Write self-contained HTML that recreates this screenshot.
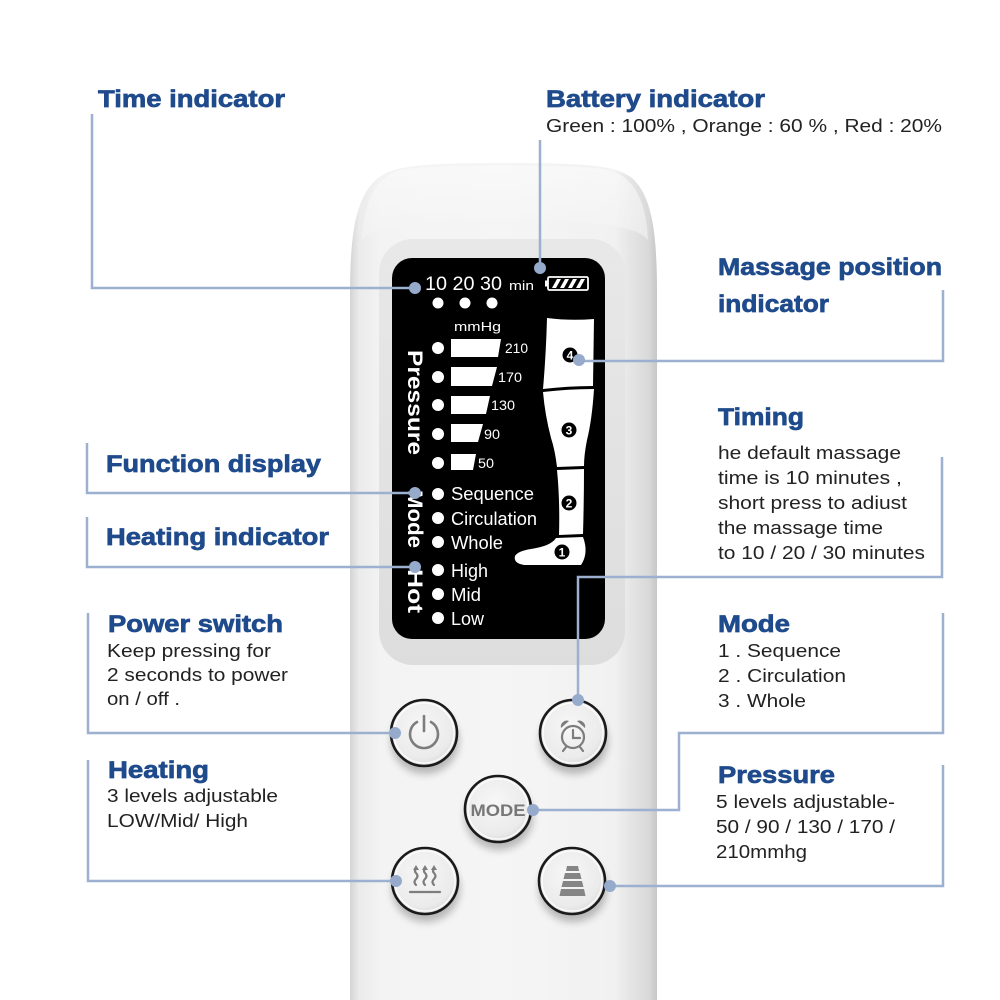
<!DOCTYPE html>
<html><head><meta charset="utf-8"><style>
html,body{margin:0;padding:0;background:#fff;}
svg{display:block;}
.t{font-family:"Liberation Sans",Arial,sans-serif;font-weight:bold;font-size:24px;fill:#1f4b8c;stroke:#1f4b8c;stroke-width:0.7;}
.b{font-family:"Liberation Sans",Arial,sans-serif;font-size:18px;fill:#222;}
.d{font-family:"Liberation Sans",Arial,sans-serif;fill:#fff;}
.ln{fill:none;stroke:#9cb0cf;stroke-width:2.5;}
.dot{fill:#96aacb;}
</style></head><body>
<svg width="1000" height="1000" viewBox="0 0 1000 1000" xmlns="http://www.w3.org/2000/svg">
<defs>
<linearGradient id="body" x1="350" y1="0" x2="658" y2="0" gradientUnits="userSpaceOnUse">
<stop offset="0" stop-color="#d4d4d4"/>
<stop offset="0.03" stop-color="#ebebeb"/>
<stop offset="0.1" stop-color="#f3f3f3"/>
<stop offset="0.5" stop-color="#f5f5f5"/>
<stop offset="0.86" stop-color="#f1f1f1"/>
<stop offset="0.92" stop-color="#e3e3e3"/>
<stop offset="0.97" stop-color="#d9d9d9"/>
<stop offset="1" stop-color="#c4c4c4"/>
</linearGradient>
<linearGradient id="cap" x1="0" y1="163" x2="0" y2="240" gradientUnits="userSpaceOnUse">
<stop offset="0" stop-color="#fcfcfc"/>
<stop offset="1" stop-color="#f3f3f3"/>
</linearGradient>
<linearGradient id="bez" x1="0" y1="238" x2="0" y2="665" gradientUnits="userSpaceOnUse">
<stop offset="0" stop-color="#e8e8e8"/>
<stop offset="1" stop-color="#dddddd"/>
</linearGradient>
<radialGradient id="btn" cx="0.45" cy="0.4" r="0.6">
<stop offset="0" stop-color="#f7f7f7"/>
<stop offset="0.8" stop-color="#ebebeb"/>
<stop offset="1" stop-color="#dadada"/>
</radialGradient>
<filter id="blur" x="-50%" y="-50%" width="200%" height="200%"><feGaussianBlur stdDeviation="4"/></filter>
</defs>
<rect width="1000" height="1000" fill="#fff"/>

<!-- device body -->
<path d="M350,1000 L350,295 C350,232 356,196 378,178 C394,166 420,163 505,163 C590,163 616,166 632,178 C652,196 657,232 657,295 L657,1000 Z" fill="url(#body)"/>
<path d="M362,240 C364,200 376,178 400,170 C430,164 580,164 610,170 C634,178 646,200 648,240 C636,226 600,221 505,219 C410,221 374,226 362,240 Z" fill="url(#cap)" opacity="0.6"/>

<!-- bezel -->
<rect x="379" y="239" width="246" height="426" rx="34" fill="url(#bez)"/>
<!-- display -->
<rect x="392" y="258" width="213" height="381" rx="20" fill="#000"/>

<!-- display contents -->
<text class="d" x="425" y="290" font-size="19" textLength="77" lengthAdjust="spacingAndGlyphs">10 20 30</text>
<text class="d" x="509" y="290" font-size="13" textLength="25" lengthAdjust="spacingAndGlyphs">min</text>
<rect x="548" y="277" width="40" height="13" rx="1.5" fill="none" stroke="#fff" stroke-width="1.8"/>
<rect x="545" y="280.5" width="3.5" height="6" fill="#fff"/>
<polygon points="552,288 557,279 561,279 556,288" fill="#fff"/>
<polygon points="560,288 565,279 569,279 564,288" fill="#fff"/>
<polygon points="568,288 573,279 577,279 572,288" fill="#fff"/>
<polygon points="576,288 581,279 585,279 580,288" fill="#fff"/>

<circle cx="438" cy="303" r="5.5" fill="#fff"/>
<circle cx="465" cy="303" r="5.5" fill="#fff"/>
<circle cx="492" cy="303" r="5.5" fill="#fff"/>
<text class="d" x="454" y="331" font-size="13" textLength="47" lengthAdjust="spacingAndGlyphs">mmHg</text>

<g fill="#fff">
<circle cx="438" cy="348" r="6"/>
<circle cx="438" cy="377" r="6"/>
<circle cx="438" cy="405" r="6"/>
<circle cx="438" cy="434" r="6"/>
<circle cx="438" cy="463" r="6"/>
<polygon points="451,339 501,339 498,357 451,357"/>
<polygon points="451,367 497,367 492,386 451,386"/>
<polygon points="451,396 490,396 486,414 451,414"/>
<polygon points="451,424 483,424 478,442 451,442"/>
<polygon points="451,454 476,454 473,470 451,470"/>
</g>
<text class="d" x="505" y="353" font-size="14" textLength="23" lengthAdjust="spacingAndGlyphs">210</text>
<text class="d" x="498" y="382" font-size="14" textLength="24" lengthAdjust="spacingAndGlyphs">170</text>
<text class="d" x="491" y="410" font-size="14" textLength="24" lengthAdjust="spacingAndGlyphs">130</text>
<text class="d" x="484" y="439" font-size="14" textLength="16" lengthAdjust="spacingAndGlyphs">90</text>
<text class="d" x="478" y="468" font-size="14" textLength="16" lengthAdjust="spacingAndGlyphs">50</text>

<text class="d" font-weight="bold" font-size="21" transform="translate(408,350) rotate(90)" textLength="105" lengthAdjust="spacingAndGlyphs">Pressure</text>
<text class="d" font-weight="bold" font-size="21" transform="translate(408,490) rotate(90)" textLength="58" lengthAdjust="spacingAndGlyphs">Mode</text>
<text class="d" font-weight="bold" font-size="21" transform="translate(408,569) rotate(90)" textLength="44" lengthAdjust="spacingAndGlyphs">Hot</text>

<g fill="#fff">
<circle cx="438" cy="494" r="6"/>
<circle cx="438" cy="518" r="6"/>
<circle cx="438" cy="542" r="6"/>
<circle cx="438" cy="570" r="6"/>
<circle cx="438" cy="594" r="6"/>
<circle cx="438" cy="618" r="6"/>
</g>
<text class="d" x="451" y="500" font-size="18" textLength="83" lengthAdjust="spacingAndGlyphs">Sequence</text>
<text class="d" x="451" y="525" font-size="18" textLength="86" lengthAdjust="spacingAndGlyphs">Circulation</text>
<text class="d" x="451" y="549" font-size="18" textLength="52" lengthAdjust="spacingAndGlyphs">Whole</text>
<text class="d" x="451" y="577" font-size="18" textLength="37" lengthAdjust="spacingAndGlyphs">High</text>
<text class="d" x="451" y="601" font-size="18" textLength="30" lengthAdjust="spacingAndGlyphs">Mid</text>
<text class="d" x="451" y="625" font-size="18" textLength="33" lengthAdjust="spacingAndGlyphs">Low</text>

<!-- leg -->
<g fill="#fff">
<path d="M547,318 Q570,321 594,319 L593,386 Q568,386 543,389 Q546,355 547,318 Z"/>
<path d="M543,392 Q568,389 594,389 Q592,420 587,440 Q584,455 584,466 L557,467 Q555,450 551,438 Q545,415 543,392 Z"/>
<path d="M557,470 L584,469 Q584,500 583,534 L559,535 Q560,500 557,470 Z"/>
<path d="M556,538 L583,537 Q589,553 581,565 L524,565 Q513,563 515,556 Q518,551 531,549 Q551,546 556,538 Z"/>
</g>
<g>
<circle cx="570" cy="355" r="7.5" fill="#000"/>
<text class="d" x="570" y="359.5" font-size="12" font-weight="bold" text-anchor="middle">4</text>
<circle cx="569" cy="430" r="7.5" fill="#000"/>
<text class="d" x="569" y="434.5" font-size="12" font-weight="bold" text-anchor="middle">3</text>
<circle cx="569" cy="503" r="7.5" fill="#000"/>
<text class="d" x="569" y="507.5" font-size="12" font-weight="bold" text-anchor="middle">2</text>
<circle cx="562" cy="552" r="7.5" fill="#000"/>
<text class="d" x="562" y="556.5" font-size="12" font-weight="bold" text-anchor="middle">1</text>
</g>

<!-- buttons -->
<g>
<ellipse cx="425" cy="741" rx="34" ry="33" fill="#000" opacity="0.25" filter="url(#blur)"/>
<ellipse cx="574" cy="741" rx="34" ry="33" fill="#000" opacity="0.25" filter="url(#blur)"/>
<ellipse cx="499" cy="817" rx="34" ry="33" fill="#000" opacity="0.25" filter="url(#blur)"/>
<ellipse cx="426" cy="889" rx="34" ry="33" fill="#000" opacity="0.25" filter="url(#blur)"/>
<ellipse cx="573" cy="889" rx="34" ry="33" fill="#000" opacity="0.25" filter="url(#blur)"/>
</g>
<g stroke="#1a1a1a" stroke-width="2.6" fill="url(#btn)">
<circle cx="424" cy="733" r="33"/>
<circle cx="573" cy="733" r="33"/>
<circle cx="498" cy="809" r="33"/>
<circle cx="425" cy="881" r="33"/>
<circle cx="572" cy="881" r="33"/>
</g>
<g stroke="#ffffff" stroke-width="1.5" fill="none" opacity="0.8">
<circle cx="424" cy="733" r="30"/>
<circle cx="573" cy="733" r="30"/>
<circle cx="498" cy="809" r="30"/>
<circle cx="425" cy="881" r="30"/>
<circle cx="572" cy="881" r="30"/>
</g>

<!-- power icon -->
<g stroke="#7d7d7d" stroke-width="2.6" fill="none" stroke-linecap="round">
<path d="M417,722 A14,14 0 1,0 431,722"/>
<path d="M424,716 L424,731"/>
</g>
<!-- alarm icon -->
<g stroke="#7d7d7d" stroke-width="2.2" fill="none" stroke-linecap="round">
<circle cx="573" cy="737" r="11"/>
<path d="M573,730 L573,738 L580,738"/>
<path d="M566,747 L563,751"/>
<path d="M580,747 L583,751"/>
</g>
<path d="M561,728 A6,6 0 0,1 569,721 Z" fill="#7d7d7d"/>
<path d="M577,721 A6,6 0 0,1 585,728 Z" fill="#7d7d7d"/>
<!-- MODE -->
<text x="498" y="816" font-family="'Liberation Sans',Arial,sans-serif" font-weight="bold" font-size="17" fill="#777" text-anchor="middle" textLength="55" lengthAdjust="spacingAndGlyphs">MODE</text>
<!-- heating icon -->
<g stroke="#7d7d7d" stroke-width="2.2" fill="none" stroke-linecap="round">
<path d="M416,885 q-3,-3 0,-6 q3,-3 0,-6 q-2,-2 0,-4"/>
<path d="M425,885 q-3,-3 0,-6 q3,-3 0,-6 q-2,-2 0,-4"/>
<path d="M434,885 q-3,-3 0,-6 q3,-3 0,-6 q-2,-2 0,-4"/>
<path d="M410,892 L440,892"/>
</g>
<g fill="#7d7d7d">
<polygon points="413,870 416,865 419,870"/>
<polygon points="422,870 425,865 428,870"/>
<polygon points="431,870 434,865 437,870"/>
</g>
<!-- pressure icon -->
<g fill="#858585">
<polygon points="567,866 578,866 579,871 566,871"/>
<polygon points="565,873 580,873 581.5,879 563.5,879"/>
<polygon points="563,881 582,881 583.5,887 561.5,887"/>
<polygon points="561,889 584,889 585.5,896 559.5,896"/>
</g>

<!-- connector lines -->
<path class="ln" d="M92,114 L92,288 L415,288"/>
<path class="ln" d="M540,140 L540,268"/>
<path class="ln" d="M579,361 L943,361 L943,290"/>
<path class="ln" d="M578,700 L578,577 L942,577 L942,457"/>
<path class="ln" d="M533,810 L679,810 L679,733 L943,733 L943,613"/>
<path class="ln" d="M610,886 L943,886 L943,765"/>
<path class="ln" d="M87,443 L87,493 L415,493"/>
<path class="ln" d="M87,517 L87,567 L415,567"/>
<path class="ln" d="M88,613 L88,733 L395,733"/>
<path class="ln" d="M88,760 L88,881 L396,881"/>
<g class="dot">
<circle cx="415" cy="288" r="6"/>
<circle cx="540" cy="268" r="6"/>
<circle cx="579" cy="360" r="6"/>
<circle cx="578" cy="700" r="6"/>
<circle cx="533" cy="810" r="6"/>
<circle cx="610" cy="886" r="6"/>
<circle cx="415" cy="493" r="6"/>
<circle cx="415" cy="567" r="6"/>
<circle cx="395" cy="733" r="6"/>
<circle cx="396" cy="881" r="6"/>
</g>

<!-- labels -->
<text class="t" x="98" y="107" textLength="187" lengthAdjust="spacingAndGlyphs">Time indicator</text>
<text class="t" x="546" y="107" textLength="219" lengthAdjust="spacingAndGlyphs">Battery indicator</text>
<text class="b" x="546" y="132" textLength="396" lengthAdjust="spacingAndGlyphs">Green : 100% , Orange : 60 % , Red : 20%</text>

<text class="t" x="718" y="275" textLength="224" lengthAdjust="spacingAndGlyphs">Massage position</text>
<text class="t" x="718" y="312" textLength="111" lengthAdjust="spacingAndGlyphs">indicator</text>

<text class="t" x="718" y="425" textLength="86" lengthAdjust="spacingAndGlyphs">Timing</text>
<text class="b" x="718" y="459" textLength="183" lengthAdjust="spacingAndGlyphs">he default massage</text>
<text class="b" x="718" y="484" textLength="184" lengthAdjust="spacingAndGlyphs">time is 10 minutes ,</text>
<text class="b" x="718" y="509" textLength="189" lengthAdjust="spacingAndGlyphs">short press to adiust</text>
<text class="b" x="718" y="534" textLength="165" lengthAdjust="spacingAndGlyphs">the massage time</text>
<text class="b" x="718" y="559" textLength="207" lengthAdjust="spacingAndGlyphs">to 10 / 20 / 30 minutes</text>

<text class="t" x="718" y="632" textLength="72" lengthAdjust="spacingAndGlyphs">Mode</text>
<text class="b" x="718" y="657" textLength="123" lengthAdjust="spacingAndGlyphs">1 . Sequence</text>
<text class="b" x="718" y="682" textLength="128" lengthAdjust="spacingAndGlyphs">2 . Circulation</text>
<text class="b" x="718" y="707" textLength="88" lengthAdjust="spacingAndGlyphs">3 . Whole</text>

<text class="t" x="718" y="783" textLength="117" lengthAdjust="spacingAndGlyphs">Pressure</text>
<text class="b" x="716" y="808" textLength="179" lengthAdjust="spacingAndGlyphs">5 levels adjustable-</text>
<text class="b" x="716" y="833" textLength="179" lengthAdjust="spacingAndGlyphs">50 / 90 / 130 / 170 /</text>
<text class="b" x="716" y="858" textLength="91" lengthAdjust="spacingAndGlyphs">210mmhg</text>

<text class="t" x="106" y="472" textLength="215" lengthAdjust="spacingAndGlyphs">Function display</text>
<text class="t" x="106" y="545" textLength="223" lengthAdjust="spacingAndGlyphs">Heating indicator</text>

<text class="t" x="108" y="632" textLength="175" lengthAdjust="spacingAndGlyphs">Power switch</text>
<text class="b" x="107" y="657" textLength="164" lengthAdjust="spacingAndGlyphs">Keep pressing for</text>
<text class="b" x="107" y="681" textLength="181" lengthAdjust="spacingAndGlyphs">2 seconds to power</text>
<text class="b" x="107" y="705" textLength="73" lengthAdjust="spacingAndGlyphs">on / off .</text>

<text class="t" x="108" y="778" textLength="101" lengthAdjust="spacingAndGlyphs">Heating</text>
<text class="b" x="107" y="802" textLength="171" lengthAdjust="spacingAndGlyphs">3 levels adjustable</text>
<text class="b" x="107" y="827" textLength="141" lengthAdjust="spacingAndGlyphs">LOW/Mid/ High</text>
</svg>
</body></html>
